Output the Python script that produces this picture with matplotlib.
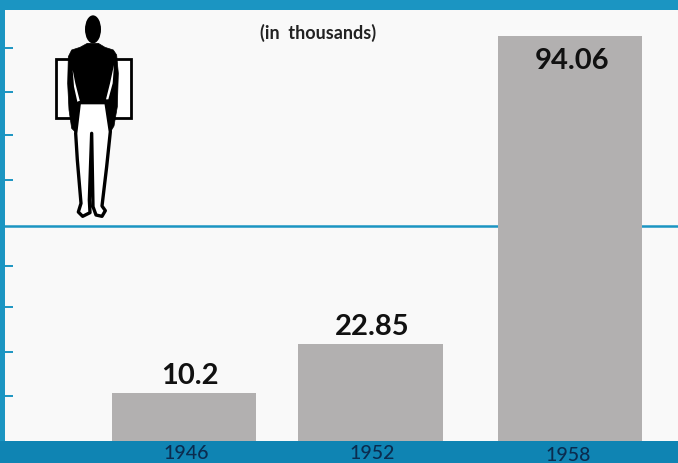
import matplotlib
matplotlib.use('Agg')
import matplotlib.pyplot as plt
from matplotlib.patches import Ellipse, Polygon, Rectangle

years = ['1946', '1952', '1958']
value_labels = ['10.2', '22.85', '94.06']
# bar heights as drawn, the printed bars are not quite to scale with their labels
bar_heights = [11.1, 22.5, 94.0]
tick_values = [10.4, 20.6, 31.1, 40.6, 60.5, 71.0, 80.9, 91.1]
rule_value = 49.8

W, H = 678, 463
BLUE = '#1b95c2'
DARK_BLUE = '#0f84b3'
PAPER = '#f9f9f9'

# man silhouette, traced in pixels of the zoomed crop (3x)
body_outline = [(262, 130), (240, 142), (215, 150), (205, 170), (203, 250), (207, 330),
                (215, 385), (228, 398), (330, 398), (342, 378), (352, 320), (355, 220),
                (350, 165), (340, 150), (315, 142), (295, 130)]
left_gap = [(218, 210), (226, 250), (240, 305), (232, 305), (222, 260)]
right_gap = [(342, 195), (330, 250), (318, 298), (325, 298), (338, 250)]
legs_outline = [(238, 308), (318, 308), (331, 395), (320, 500), (306, 618), (316, 632),
                (306, 649), (288, 645), (279, 620), (275, 400), (268, 600), (270, 638),
                (248, 649), (235, 636), (243, 610), (232, 480), (227, 400)]

fig = plt.figure(figsize=(W / 100, H / 100), dpi=100, facecolor=BLUE)

# darker strip under the plot
fig.patches.append(Rectangle((0, 0), 1, (H - 441) / H, transform=fig.transFigure,
                             facecolor=DARK_BLUE, edgecolor='none', zorder=-1))

ax = fig.add_axes([5 / W, (H - 441) / H, (W - 5) / W, 431 / H], facecolor=PAPER)

bar_pos = [0, 0.966, 2]
ax.axhline(rule_value, color=BLUE, lw=1.8, zorder=1)
bars = ax.bar(bar_pos, bar_heights, width=0.75, color='#b2b0b0', zorder=2)

ax.set_xlim(-0.928, 2.56)
ax.set_ylim(0, 100)
ax.set_yticks(tick_values)
ax.set_yticklabels([])
ax.tick_params(axis='y', direction='in', length=6, width=1.4, color=BLUE)
ax.set_xticks([])
for side in ax.spines.values():
    side.set_visible(False)

# year labels are a little off centre in the print
for rect, year, x_off, y_off in zip(bars, years, [2, 2, -2], [-4, -4, -6]):
    ax.annotate(year, (rect.get_x() + rect.get_width() / 2, 0), xytext=(x_off, y_off),
                textcoords='offset pixels', ha='center', va='top', annotation_clip=False,
                fontsize=14, fontweight='medium', color='#0b2c4f', family='Lato')

# value labels, the last one sits inside its bar
for rect, label, x_off, y_off in zip(bars, value_labels, [6, 2, 2], [4, 4, -38]):
    ax.annotate(label, (rect.get_x() + rect.get_width() / 2, rect.get_height()),
                xytext=(x_off, y_off), textcoords='offset pixels', ha='center', va='bottom',
                fontsize=21, fontweight='bold', color='#111111', family='Lato')

fig.text(318 / W, 1 - 33 / H, '(in  thousands)', ha='center', va='center',
         fontsize=13, fontweight='bold', color='#222222', family='Lato')

# the figure next to the scale, in zoomed crop pixels
man = fig.add_axes([0, 0, 1, 1], facecolor='none')
man.set_xlim(0, W * 3)
man.set_ylim(H * 3, 0)
man.axis('off')
man.add_patch(Rectangle((168, 178), 224, 177, facecolor='white', edgecolor='black', lw=2))
man.add_patch(Polygon(body_outline, facecolor='black', edgecolor='black', lw=0.5))
man.add_patch(Ellipse((279, 88), 48, 84, facecolor='black', edgecolor='none'))
man.add_patch(Polygon(left_gap, facecolor='white', edgecolor='none'))
man.add_patch(Polygon(right_gap, facecolor='white', edgecolor='none'))
man.add_patch(Polygon(legs_outline, facecolor='white', edgecolor='black', lw=2.4, joinstyle='round'))

fig.savefig('out.png', dpi=100, facecolor=fig.get_facecolor())
